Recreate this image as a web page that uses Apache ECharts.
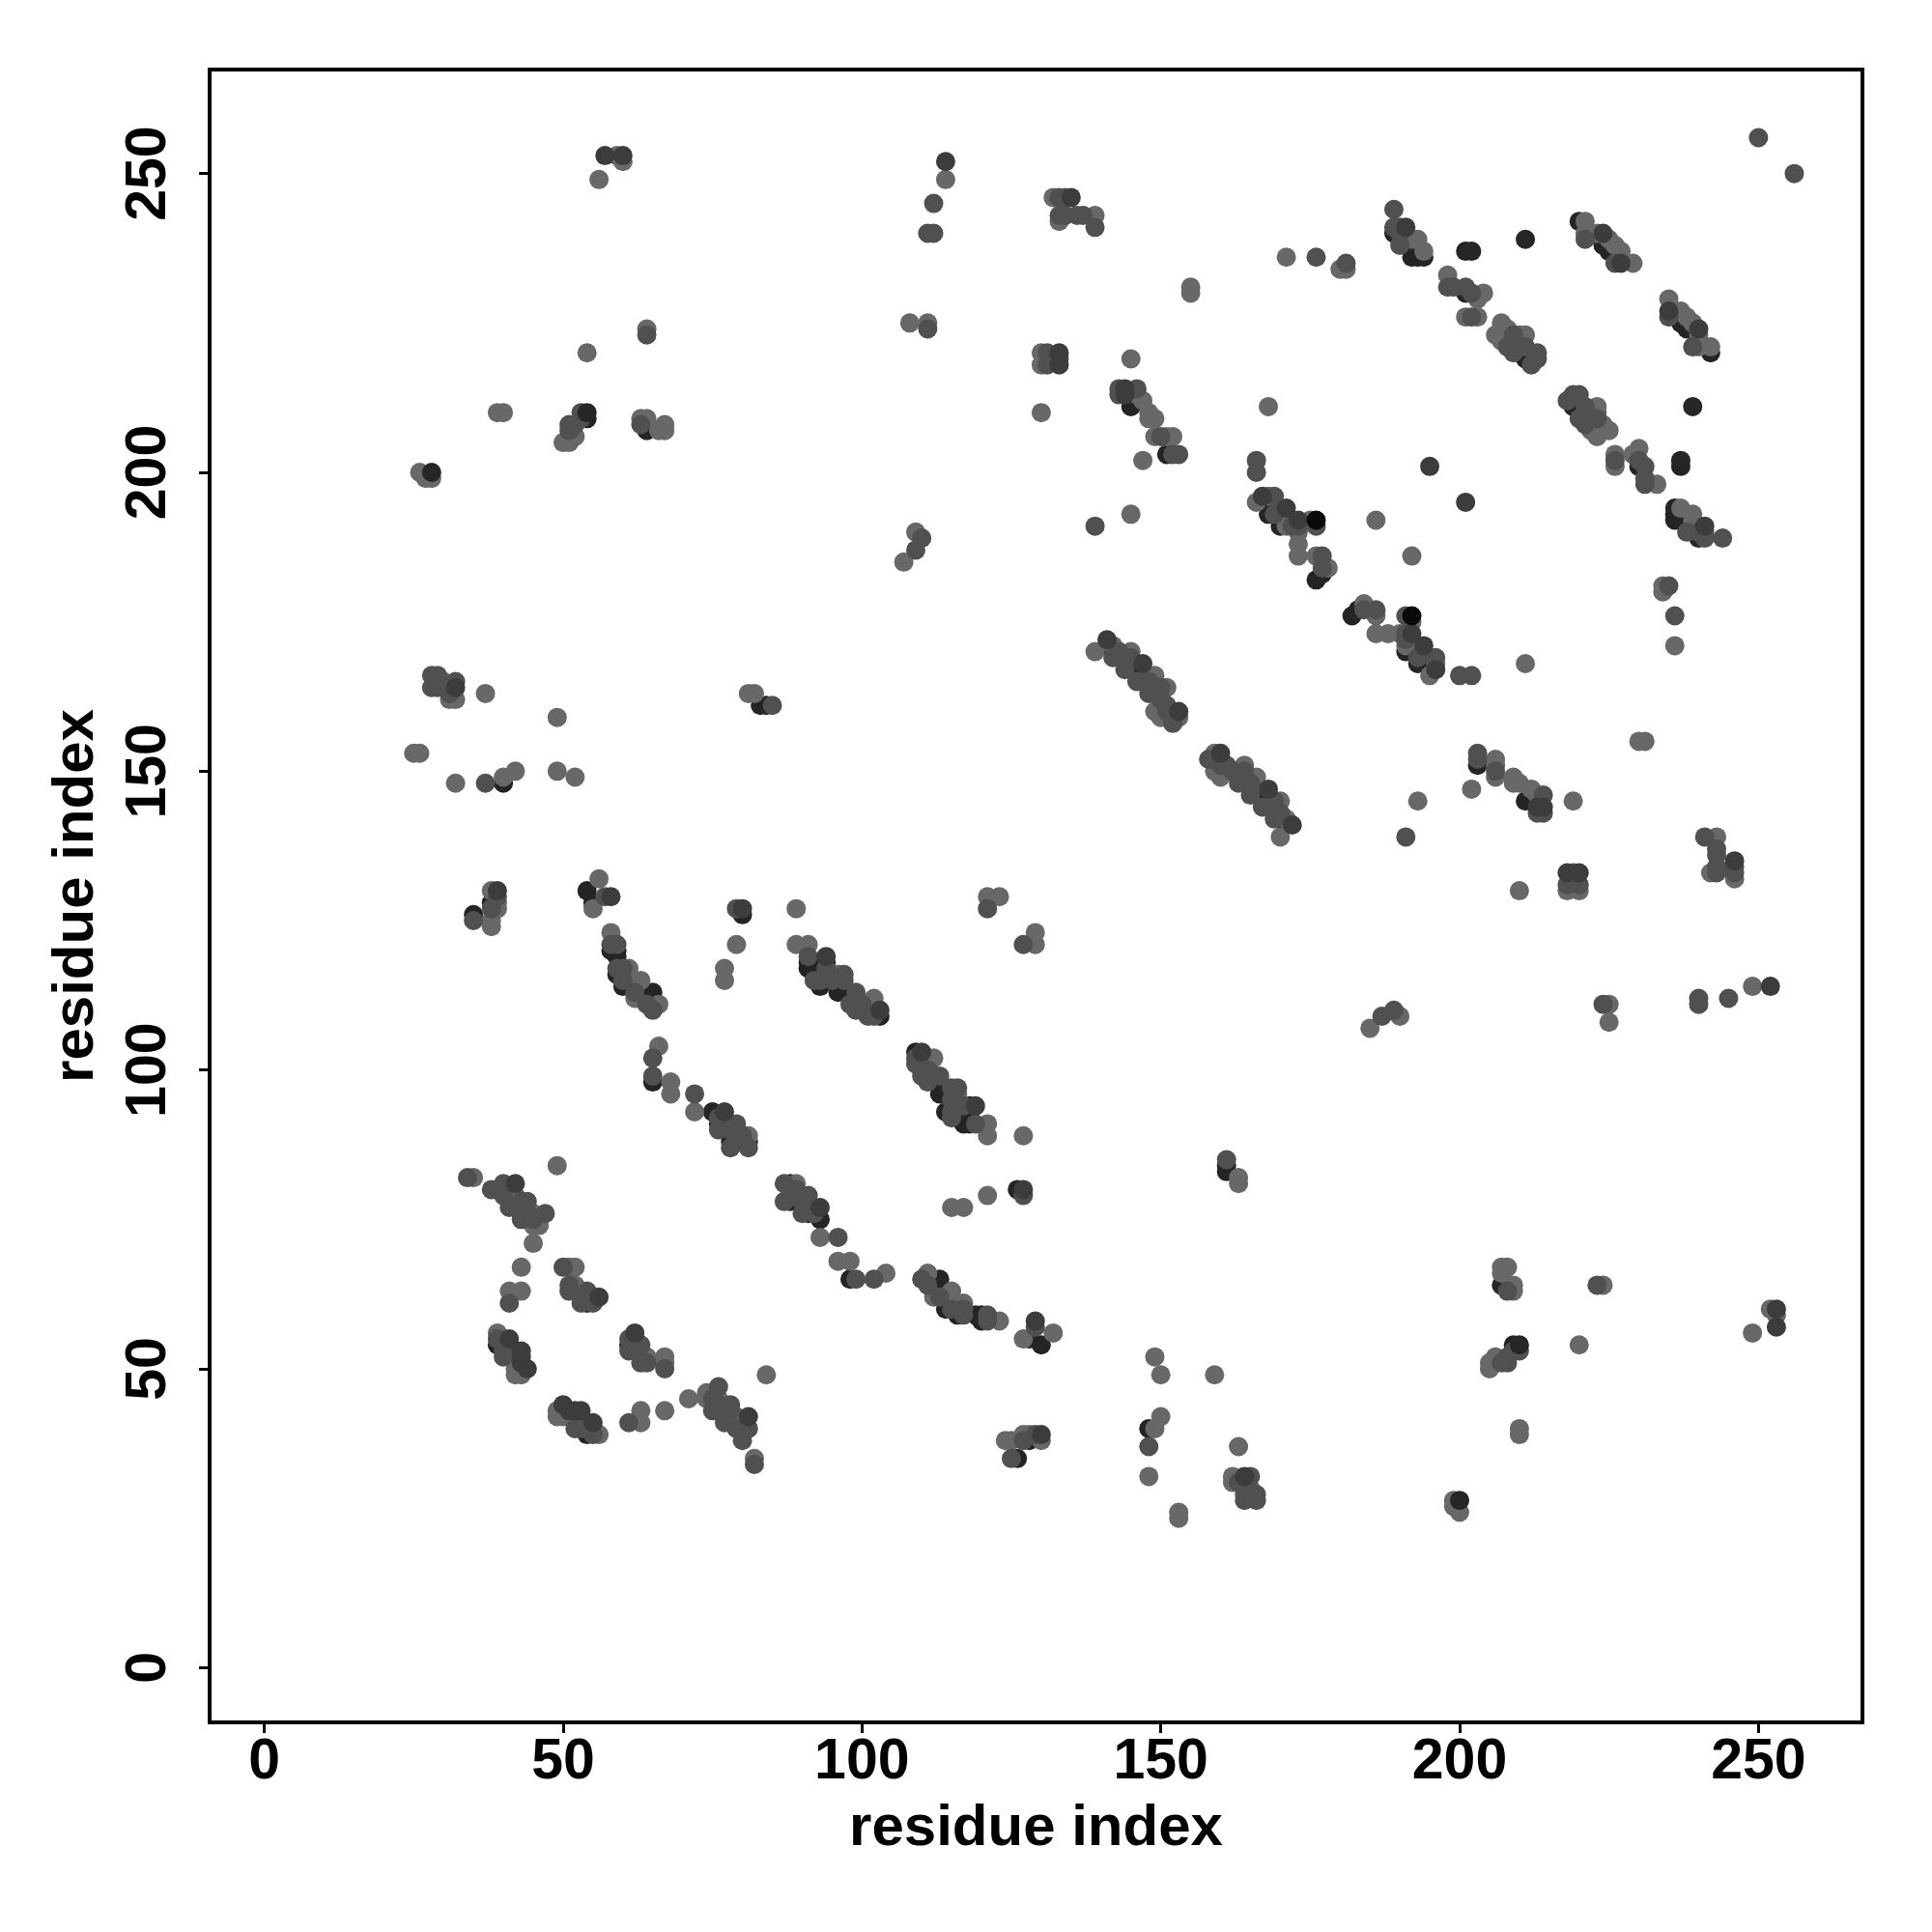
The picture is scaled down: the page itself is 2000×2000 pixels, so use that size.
<!DOCTYPE html>
<html>
<head>
<meta charset="utf-8">
<style>html,body{margin:0;padding:0;background:#fff}#c{width:2000px;height:2000px}</style>
<script src="https://cdn.jsdelivr.net/npm/echarts@6/dist/echarts.min.js"></script>
</head>
<body>
<div id="c"></div>
<script>
const tickValues = [0, 50, 100, 150, 200, 250];
const axisTitle = "residue index";

const contactsUnder = [
[42,77],[53,62],[54,61],[39,54],[40,55],[41,52],[42,51],[65,98],[75,93],[81,88],[77,91],[79,88],[76,91],[78,88],[54,130],[55,128],[58,120],[59,120],[59,119],[59,116],[60,114],[65,113],[80,126],[91,117],[92,118],[94,118],[96,113],[98,113],[100,110],[103,109],[97,114],[93,114],[91,118],[93,116],[94,116],[99,112],[141,171],[142,170],[144,169],[145,168],[146,167],[147,166],[168,193],[170,191],[177,183],[176,182],[169,194],[168,195],[190,239],[189,240],[191,238],[192,236],[193,236],[194,236],[201,230],[210,220],[211,219],[220,242],[225,237],[224,238],[145,211],[151,203],[35,126],[38,128],[64,207],[40,148],[83,161],[84,161],[54,209],[201,237],
[77,42],[62,53],[61,54],[54,39],[55,40],[52,41],[51,42],[98,65],[93,75],[88,81],[91,77],[88,79],[91,76],[88,78],[130,54],[128,55],[120,58],[120,59],[119,59],[116,59],[114,60],[113,65],[126,80],[117,91],[118,92],[118,94],[113,96],[113,98],[110,100],[109,103],[114,97],[114,93],[118,91],[116,93],[116,94],[112,99],[171,141],[170,142],[169,144],[168,145],[167,146],[166,147],[193,168],[191,170],[183,177],[182,176],[194,169],[195,168],[239,190],[240,189],[238,191],[236,192],[236,193],[236,194],[230,201],[220,210],[219,211],[242,220],[237,225],[238,224],[211,145],[203,151],[126,35],[128,38],[207,64],[148,40],[161,83],[161,84],[209,54],[237,201]
];

const contactsLight = [
[35,82],[41,79],[42,79],[41,80],[44,77],[45,76],[46,74],[45,74],[45,71],[43,67],[41,63],[43,63],[49,84],[51,67],[52,67],[52,64],[53,63],[39,56],[41,53],[42,53],[42,49],[43,49],[42,50],[68,98],[68,96],[72,93],[66,104],[81,89],[56,132],[55,127],[58,123],[61,117],[63,115],[62,112],[66,111],[77,117],[77,115],[79,121],[89,127],[89,121],[91,121],[96,116],[102,112],[102,111],[121,129],[123,129],[139,170],[142,171],[145,170],[148,166],[149,166],[149,165],[151,164],[150,163],[149,160],[150,159],[153,159],[152,160],[166,195],[168,196],[170,194],[171,191],[173,188],[173,186],[173,190],[175,192],[176,186],[178,184],[186,192],[168,211],[192,239],[193,239],[194,237],[198,233],[204,230],[203,229],[201,226],[203,226],[207,225],[206,223],[211,223],[210,223],[208,224],[207,222],[207,224],[209,222],[221,242],[222,240],[223,240],[225,239],[226,238],[227,237],[229,235],[221,240],[146,213],[147,212],[148,210],[148,209],[149,209],[152,206],[151,206],[149,206],[147,202],[145,219],[132,246],[139,243],[133,242],[130,220],[130,218],[130,210],[145,193],[171,236],[180,234],[181,234],[155,231],[155,230],[107,185],[109,190],[108,225],[111,225],[114,249],[56,249],[59,253],[60,252],[54,220],[64,224],[39,210],[40,210],[50,205],[51,205],[52,206],[63,209],[64,209],[67,208],[66,207],[67,207],[26,200],[27,199],[28,199],[30,165],[31,162],[32,162],[37,163],[49,159],[25,153],[26,153],[32,148],[40,149],[42,150],[49,150],[52,149],[81,163],[82,163],[38,130],[39,128],[38,124],[39,127],[38,125],
[82,35],[79,41],[79,42],[80,41],[77,44],[76,45],[74,46],[74,45],[71,45],[67,43],[63,41],[63,43],[84,49],[67,51],[67,52],[64,52],[63,53],[56,39],[53,41],[53,42],[49,42],[49,43],[50,42],[98,68],[96,68],[93,72],[104,66],[89,81],[132,56],[127,55],[123,58],[117,61],[115,63],[112,62],[111,66],[117,77],[115,77],[121,79],[127,89],[121,89],[121,91],[116,96],[112,102],[111,102],[129,121],[129,123],[170,139],[171,142],[170,145],[166,148],[166,149],[165,149],[164,151],[163,150],[160,149],[159,150],[159,153],[160,152],[195,166],[196,168],[194,170],[191,171],[188,173],[186,173],[190,173],[192,175],[186,176],[184,178],[192,186],[211,168],[239,192],[239,193],[237,194],[233,198],[230,204],[229,203],[226,201],[226,203],[225,207],[223,206],[223,211],[223,210],[224,208],[222,207],[224,207],[222,209],[242,221],[240,222],[240,223],[239,225],[238,226],[237,227],[235,229],[240,221],[213,146],[212,147],[210,148],[209,148],[209,149],[206,152],[206,151],[206,149],[202,147],[219,145],[246,132],[243,139],[242,133],[220,130],[218,130],[210,130],[193,145],[236,171],[234,180],[234,181],[231,155],[230,155],[185,107],[190,109],[225,108],[225,111],[249,114],[249,56],[253,59],[252,60],[220,54],[224,64],[210,39],[210,40],[205,50],[205,51],[206,52],[209,63],[209,64],[208,67],[207,66],[207,67],[200,26],[199,27],[199,28],[165,30],[162,31],[162,32],[163,37],[159,49],[153,25],[153,26],[148,32],[149,40],[150,42],[150,49],[149,52],[163,81],[163,82],[130,38],[128,39],[124,38],[127,39],[125,38]
];

const contactsMid = [
[34,82],[38,80],[40,81],[40,79],[41,77],[43,78],[44,78],[43,75],[47,76],[43,76],[40,80],[44,76],[45,75],[41,61],[50,67],[51,64],[51,63],[54,63],[53,61],[55,61],[39,55],[40,53],[40,52],[65,99],[65,102],[72,96],[76,92],[76,90],[79,91],[78,90],[78,87],[81,87],[80,89],[79,89],[57,129],[59,121],[58,121],[59,117],[60,117],[60,115],[64,111],[65,110],[62,113],[91,119],[92,115],[93,115],[94,117],[97,116],[95,115],[99,113],[99,110],[101,109],[102,109],[98,111],[100,111],[97,115],[99,111],[79,127],[121,127],[142,169],[143,170],[144,167],[145,169],[146,165],[148,165],[148,163],[150,164],[150,162],[151,160],[152,158],[151,161],[166,200],[166,202],[169,196],[173,191],[176,191],[177,186],[177,184],[169,193],[172,191],[189,244],[189,241],[190,241],[190,238],[190,240],[198,231],[199,231],[201,231],[202,226],[209,223],[209,220],[211,221],[213,220],[213,219],[212,218],[208,221],[202,230],[221,239],[226,235],[143,214],[143,213],[146,214],[150,206],[152,203],[153,203],[133,246],[134,246],[134,243],[136,243],[137,243],[133,243],[139,241],[139,191],[181,235],[176,236],[110,189],[109,187],[112,240],[111,240],[112,245],[28,166],[29,166],[28,164],[29,164],[32,165],[31,163],[37,148],[35,125],[39,129],[38,127],[53,209],[53,210],[52,208],[51,208],[51,207],[63,208],[85,161],[64,223],[111,224],[133,219],[131,220],[131,218],[250,256],
[82,34],[80,38],[81,40],[79,40],[77,41],[78,43],[78,44],[75,43],[76,47],[76,43],[80,40],[76,44],[75,45],[61,41],[67,50],[64,51],[63,51],[63,54],[61,53],[61,55],[55,39],[53,40],[52,40],[99,65],[102,65],[96,72],[92,76],[90,76],[91,79],[90,78],[87,78],[87,81],[89,80],[89,79],[129,57],[121,59],[121,58],[117,59],[117,60],[115,60],[111,64],[110,65],[113,62],[119,91],[115,92],[115,93],[117,94],[116,97],[115,95],[113,99],[110,99],[109,101],[109,102],[111,98],[111,100],[115,97],[111,99],[127,79],[127,121],[169,142],[170,143],[167,144],[169,145],[165,146],[165,148],[163,148],[164,150],[162,150],[160,151],[158,152],[161,151],[200,166],[202,166],[196,169],[191,173],[191,176],[186,177],[184,177],[193,169],[191,172],[244,189],[241,189],[241,190],[238,190],[240,190],[231,198],[231,199],[231,201],[226,202],[223,209],[220,209],[221,211],[220,213],[219,213],[218,212],[221,208],[230,202],[239,221],[235,226],[214,143],[213,143],[214,146],[206,150],[203,152],[203,153],[246,133],[246,134],[243,134],[243,136],[243,137],[243,133],[241,139],[191,139],[235,181],[236,176],[189,110],[187,109],[240,112],[240,111],[245,112],[166,28],[166,29],[164,28],[164,29],[165,32],[163,31],[148,37],[125,35],[129,39],[127,38],[209,53],[210,53],[208,52],[208,51],[207,51],[208,63],[161,85],[223,64],[224,111],[219,133],[220,131],[218,131],[256,250]
];

const contactsTop = [
[42,81],[56,62],[41,55],[43,53],[43,52],[43,51],[44,50],[77,93],[58,129],[94,119],[103,110],[80,127],[141,172],[147,168],[153,160],[167,196],[171,194],[173,192],[191,241],[224,240],[227,235],[195,201],[144,214],[144,213],[133,220],[133,218],[135,246],[39,130],[57,253],[60,253],[114,252],[32,164],
[81,42],[62,56],[55,41],[53,43],[52,43],[51,43],[50,44],[93,77],[129,58],[119,94],[110,103],[127,80],[172,141],[168,147],[160,153],[196,167],[194,171],[192,173],[241,191],[240,224],[235,227],[201,195],[214,144],[213,144],[220,133],[218,133],[246,135],[130,39],[253,57],[253,60],[252,114],[164,32]
];

const contactsDarkest = [
[211,239],[202,237],[54,210],[28,200],
[239,211],[237,202],[210,54],[200,28]
];

const contactsBlack = [[176,192],[192,176]];

const layers = [
  {data: contactsUnder, color: "#242424"},
  {data: contactsLight, color: "#686868"},
  {data: contactsMid, color: "#505050"},
  {data: contactsTop, color: "#3c3c3c"},
  {data: contactsDarkest, color: "#262626"},
  {data: contactsBlack, color: "#0a0a0a"}
];

const font = "Liberation Sans";
function axis(isY) {
  return {
    type: "value", min: -9.15, max: 267.4,
    name: axisTitle, nameLocation: "middle", nameGap: isY ? 108 : 80,
    nameRotate: isY ? 90 : 0,
    nameTextStyle: {fontFamily: font, fontWeight: "bold", fontSize: 60, color: "#000"},
    splitLine: {show: false},
    axisLine: {show: false, onZero: false},
    axisTick: {show: true, length: 11, inside: false, customValues: tickValues, lineStyle: {width: 3, color: "#000"}},
    axisLabel: {show: true, customValues: tickValues, rotate: isY ? 90 : 0, margin: isY ? 33 : 12,
      fontFamily: font, fontWeight: "bold", fontSize: 59, color: "#000"}
  };
}
const chart = echarts.init(document.getElementById("c"), null, {width: 2000, height: 2000});
chart.setOption({
  animation: false,
  backgroundColor: "#fff",
  grid: {left: 217, right: 72, top: 72, bottom: 217, show: true, borderColor: "#000", borderWidth: 4, backgroundColor: "#fff"},
  xAxis: axis(false),
  yAxis: axis(true),
  series: layers.map(l => ({
    type: "scatter", data: l.data, symbol: "circle", symbolSize: 20,
    itemStyle: {color: l.color, opacity: 1}, silent: true
  }))
});
</script>
</body>
</html>
